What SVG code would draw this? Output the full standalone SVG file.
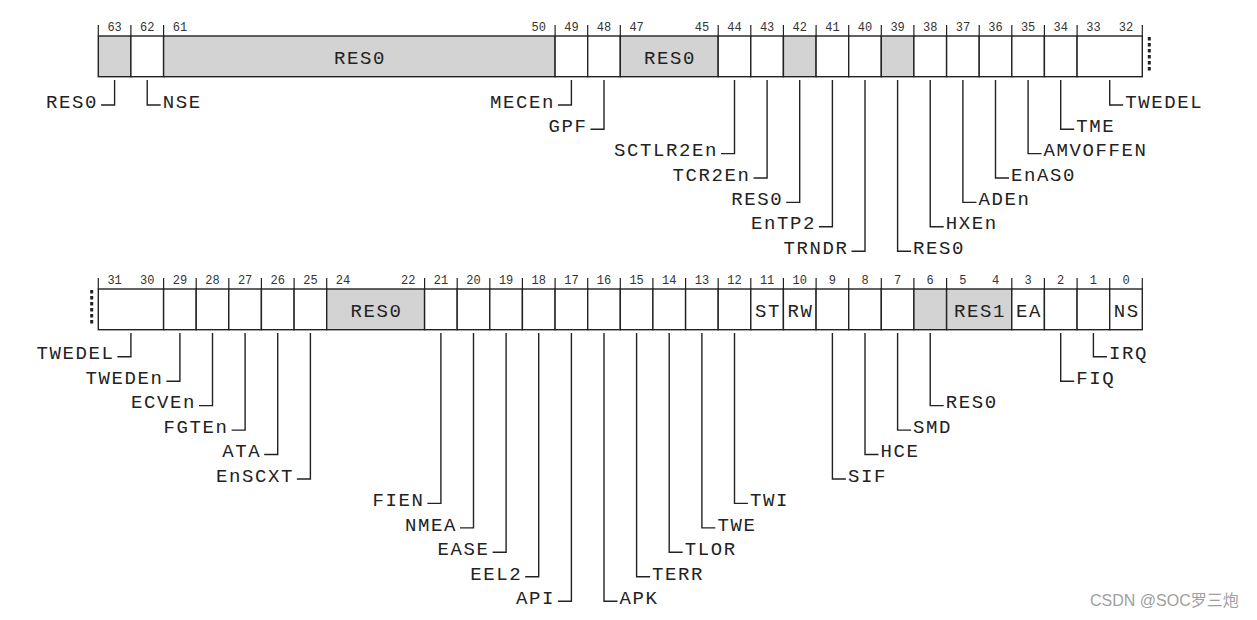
<svg xmlns="http://www.w3.org/2000/svg" width="1257" height="620" viewBox="0 0 1257 620">
<style>
.w{fill:#fff;stroke:#222;stroke-width:1.4}
.g{fill:#d3d3d3;stroke:#222;stroke-width:1.4}
.n{font-family:"Liberation Mono",monospace;font-size:12px;fill:#333;text-anchor:middle}
.l{font-family:"Liberation Mono",monospace;font-size:19px;letter-spacing:1.6px;fill:#222}
.e{text-anchor:end}
.m{text-anchor:middle}
.c path{fill:none;stroke:#222;stroke-width:1.4}
.t line{stroke:#222;stroke-width:1.2}
.d{stroke:#222;stroke-width:3;stroke-dasharray:3.6 2.4}
</style>
<rect width="1257" height="620" fill="#fff"/>
<g id="ticks" class="t">
<line x1="98.3" y1="25" x2="98.3" y2="36"/><line x1="130.9" y1="25" x2="130.9" y2="36"/><line x1="163.6" y1="25" x2="163.6" y2="36"/><line x1="555.1" y1="25" x2="555.1" y2="36"/><line x1="587.7" y1="25" x2="587.7" y2="36"/><line x1="620.3" y1="25" x2="620.3" y2="36"/><line x1="718.2" y1="25" x2="718.2" y2="36"/><line x1="750.8" y1="25" x2="750.8" y2="36"/><line x1="783.4" y1="25" x2="783.4" y2="36"/><line x1="816.1" y1="25" x2="816.1" y2="36"/><line x1="848.7" y1="25" x2="848.7" y2="36"/><line x1="881.3" y1="25" x2="881.3" y2="36"/><line x1="913.9" y1="25" x2="913.9" y2="36"/><line x1="946.6" y1="25" x2="946.6" y2="36"/><line x1="979.2" y1="25" x2="979.2" y2="36"/><line x1="1011.8" y1="25" x2="1011.8" y2="36"/><line x1="1044.4" y1="25" x2="1044.4" y2="36"/><line x1="1077.1" y1="25" x2="1077.1" y2="36"/><line x1="1142.3" y1="25" x2="1142.3" y2="36"/>
<line x1="98.3" y1="278" x2="98.3" y2="289"/><line x1="163.6" y1="278" x2="163.6" y2="289"/><line x1="196.2" y1="278" x2="196.2" y2="289"/><line x1="228.8" y1="278" x2="228.8" y2="289"/><line x1="261.4" y1="278" x2="261.4" y2="289"/><line x1="294.1" y1="278" x2="294.1" y2="289"/><line x1="326.7" y1="278" x2="326.7" y2="289"/><line x1="424.6" y1="278" x2="424.6" y2="289"/><line x1="457.2" y1="278" x2="457.2" y2="289"/><line x1="489.8" y1="278" x2="489.8" y2="289"/><line x1="522.4" y1="278" x2="522.4" y2="289"/><line x1="555.1" y1="278" x2="555.1" y2="289"/><line x1="587.7" y1="278" x2="587.7" y2="289"/><line x1="620.3" y1="278" x2="620.3" y2="289"/><line x1="652.9" y1="278" x2="652.9" y2="289"/><line x1="685.6" y1="278" x2="685.6" y2="289"/><line x1="718.2" y1="278" x2="718.2" y2="289"/><line x1="750.8" y1="278" x2="750.8" y2="289"/><line x1="783.4" y1="278" x2="783.4" y2="289"/><line x1="816.1" y1="278" x2="816.1" y2="289"/><line x1="848.7" y1="278" x2="848.7" y2="289"/><line x1="881.3" y1="278" x2="881.3" y2="289"/><line x1="913.9" y1="278" x2="913.9" y2="289"/><line x1="946.6" y1="278" x2="946.6" y2="289"/><line x1="1011.8" y1="278" x2="1011.8" y2="289"/><line x1="1044.4" y1="278" x2="1044.4" y2="289"/><line x1="1077.1" y1="278" x2="1077.1" y2="289"/><line x1="1109.7" y1="278" x2="1109.7" y2="289"/><line x1="1142.3" y1="278" x2="1142.3" y2="289"/>
</g>
<line class="d" x1="1149.3" y1="37" x2="1149.3" y2="73"/>
<line class="d" x1="91.7" y1="290" x2="91.7" y2="326"/>

<g id="b63"><rect class="g" x="98.3" y="36" width="32.6" height="40.7"/><text class="n" x="114.6" y="31">63</text><text class="l e" x="98.1" y="107.5">RES0</text></g>
<g id="b62"><rect class="w" x="130.9" y="36" width="32.7" height="40.7"/><text class="n" x="147.2" y="31">62</text><text class="l" x="162.7" y="107.5">NSE</text></g>
<g id="b61_50"><rect class="g" x="163.6" y="36" width="391.5" height="40.7"/><text class="n" x="179.9" y="31">61</text><text class="n" x="538.7" y="31">50</text><text class="l m" x="360.1" y="63.5">RES0</text></g>
<g id="b49"><rect class="w" x="555.1" y="36" width="32.6" height="40.7"/><text class="n" x="571.4" y="31">49</text><text class="l e" x="554.9" y="107.5">MECEn</text></g>
<g id="b48"><rect class="w" x="587.7" y="36" width="32.6" height="40.7"/><text class="n" x="604" y="31">48</text><text class="l e" x="587.5" y="131.7">GPF</text></g>
<g id="b47_45"><rect class="g" x="620.3" y="36" width="97.9" height="40.7"/><text class="n" x="636.6" y="31">47</text><text class="n" x="701.9" y="31">45</text><text class="l m" x="670" y="63.5">RES0</text></g>
<g id="b44"><rect class="w" x="718.2" y="36" width="32.6" height="40.7"/><text class="n" x="734.5" y="31">44</text><text class="l e" x="718" y="156.1">SCTLR2En</text></g>
<g id="b43"><rect class="w" x="750.8" y="36" width="32.6" height="40.7"/><text class="n" x="767.1" y="31">43</text><text class="l e" x="750.6" y="180.5">TCR2En</text></g>
<g id="b42"><rect class="g" x="783.4" y="36" width="32.7" height="40.7"/><text class="n" x="799.7" y="31">42</text><text class="l e" x="783.2" y="204.9">RES0</text></g>
<g id="b41"><rect class="w" x="816.1" y="36" width="32.6" height="40.7"/><text class="n" x="832.4" y="31">41</text><text class="l e" x="815.9" y="229.3">EnTP2</text></g>
<g id="b40"><rect class="w" x="848.7" y="36" width="32.6" height="40.7"/><text class="n" x="865" y="31">40</text><text class="l e" x="848.5" y="253.7">TRNDR</text></g>
<g id="b39"><rect class="g" x="881.3" y="36" width="32.6" height="40.7"/><text class="n" x="897.6" y="31">39</text><text class="l" x="913.1" y="253.7">RES0</text></g>
<g id="b38"><rect class="w" x="913.9" y="36" width="32.7" height="40.7"/><text class="n" x="930.2" y="31">38</text><text class="l" x="945.7" y="229.3">HXEn</text></g>
<g id="b37"><rect class="w" x="946.6" y="36" width="32.6" height="40.7"/><text class="n" x="962.9" y="31">37</text><text class="l" x="978.4" y="204.9">ADEn</text></g>
<g id="b36"><rect class="w" x="979.2" y="36" width="32.6" height="40.7"/><text class="n" x="995.5" y="31">36</text><text class="l" x="1011" y="180.5">EnAS0</text></g>
<g id="b35"><rect class="w" x="1011.8" y="36" width="32.6" height="40.7"/><text class="n" x="1028.1" y="31">35</text><text class="l" x="1043.6" y="156.1">AMVOFFEN</text></g>
<g id="b34"><rect class="w" x="1044.4" y="36" width="32.7" height="40.7"/><text class="n" x="1060.7" y="31">34</text><text class="l" x="1076.2" y="131.7">TME</text></g>
<g id="b33_32"><rect class="w" x="1077.1" y="36" width="65.2" height="40.7"/><text class="n" x="1093.4" y="31">33</text><text class="n" x="1126" y="31">32</text><text class="l" x="1125.2" y="107.5">TWEDEL</text></g>

<g id="b31_30"><rect class="w" x="98.3" y="289" width="65.3" height="40.7"/><text class="n" x="114.6" y="284">31</text><text class="n" x="147.2" y="284">30</text><text class="l e" x="114.4" y="359.4">TWEDEL</text></g>
<g id="b29"><rect class="w" x="163.6" y="289" width="32.6" height="40.7"/><text class="n" x="179.9" y="284">29</text><text class="l e" x="163.4" y="383.9">TWEDEn</text></g>
<g id="b28"><rect class="w" x="196.2" y="289" width="32.6" height="40.7"/><text class="n" x="212.5" y="284">28</text><text class="l e" x="196" y="408.3">ECVEn</text></g>
<g id="b27"><rect class="w" x="228.8" y="289" width="32.6" height="40.7"/><text class="n" x="245.1" y="284">27</text><text class="l e" x="228.6" y="432.8">FGTEn</text></g>
<g id="b26"><rect class="w" x="261.4" y="289" width="32.7" height="40.7"/><text class="n" x="277.7" y="284">26</text><text class="l e" x="261.2" y="457.2">ATA</text></g>
<g id="b25"><rect class="w" x="294.1" y="289" width="32.6" height="40.7"/><text class="n" x="310.4" y="284">25</text><text class="l e" x="293.9" y="481.7">EnSCXT</text></g>
<g id="b24_22"><rect class="g" x="326.7" y="289" width="97.9" height="40.7"/><text class="n" x="343" y="284">24</text><text class="n" x="408.2" y="284">22</text><text class="l m" x="376.4" y="317">RES0</text></g>
<g id="b21"><rect class="w" x="424.6" y="289" width="32.6" height="40.7"/><text class="n" x="440.9" y="284">21</text><text class="l e" x="424.4" y="506.1">FIEN</text></g>
<g id="b20"><rect class="w" x="457.2" y="289" width="32.6" height="40.7"/><text class="n" x="473.5" y="284">20</text><text class="l e" x="457" y="530.6">NMEA</text></g>
<g id="b19"><rect class="w" x="489.8" y="289" width="32.6" height="40.7"/><text class="n" x="506.1" y="284">19</text><text class="l e" x="489.6" y="555">EASE</text></g>
<g id="b18"><rect class="w" x="522.4" y="289" width="32.7" height="40.7"/><text class="n" x="538.7" y="284">18</text><text class="l e" x="522.2" y="579.5">EEL2</text></g>
<g id="b17"><rect class="w" x="555.1" y="289" width="32.6" height="40.7"/><text class="n" x="571.4" y="284">17</text><text class="l e" x="554.9" y="603.9">API</text></g>
<g id="b16"><rect class="w" x="587.7" y="289" width="32.6" height="40.7"/><text class="n" x="604" y="284">16</text><text class="l" x="619.5" y="603.9">APK</text></g>
<g id="b15"><rect class="w" x="620.3" y="289" width="32.6" height="40.7"/><text class="n" x="636.6" y="284">15</text><text class="l" x="652.1" y="579.5">TERR</text></g>
<g id="b14"><rect class="w" x="652.9" y="289" width="32.7" height="40.7"/><text class="n" x="669.2" y="284">14</text><text class="l" x="684.7" y="555">TLOR</text></g>
<g id="b13"><rect class="w" x="685.6" y="289" width="32.6" height="40.7"/><text class="n" x="701.9" y="284">13</text><text class="l" x="717.4" y="530.6">TWE</text></g>
<g id="b12"><rect class="w" x="718.2" y="289" width="32.6" height="40.7"/><text class="n" x="734.5" y="284">12</text><text class="l" x="750" y="506.1">TWI</text></g>
<g id="b11"><rect class="w" x="750.8" y="289" width="32.6" height="40.7"/><text class="n" x="767.1" y="284">11</text><text class="l m" x="767.9" y="317">ST</text></g>
<g id="b10"><rect class="w" x="783.4" y="289" width="32.7" height="40.7"/><text class="n" x="799.7" y="284">10</text><text class="l m" x="800.5" y="317">RW</text></g>
<g id="b9"><rect class="w" x="816.1" y="289" width="32.6" height="40.7"/><text class="n" x="832.4" y="284">9</text><text class="l" x="847.9" y="481.7">SIF</text></g>
<g id="b8"><rect class="w" x="848.7" y="289" width="32.6" height="40.7"/><text class="n" x="865" y="284">8</text><text class="l" x="880.5" y="457.2">HCE</text></g>
<g id="b7"><rect class="w" x="881.3" y="289" width="32.6" height="40.7"/><text class="n" x="897.6" y="284">7</text><text class="l" x="913.1" y="432.8">SMD</text></g>
<g id="b6"><rect class="g" x="913.9" y="289" width="32.7" height="40.7"/><text class="n" x="930.2" y="284">6</text><text class="l" x="945.7" y="408.3">RES0</text></g>
<g id="b5_4"><rect class="g" x="946.6" y="289" width="65.2" height="40.7"/><text class="n" x="962.9" y="284">5</text><text class="n" x="995.5" y="284">4</text><text class="l m" x="980" y="317">RES1</text></g>
<g id="b3"><rect class="w" x="1011.8" y="289" width="32.6" height="40.7"/><text class="n" x="1028.1" y="284">3</text><text class="l m" x="1028.9" y="317">EA</text></g>
<g id="b2"><rect class="w" x="1044.4" y="289" width="32.7" height="40.7"/><text class="n" x="1060.7" y="284">2</text><text class="l" x="1076.2" y="383.9">FIQ</text></g>
<g id="b1"><rect class="w" x="1077.1" y="289" width="32.6" height="40.7"/><text class="n" x="1093.4" y="284">1</text><text class="l" x="1108.9" y="359.4">IRQ</text></g>
<g id="b0"><rect class="w" x="1109.7" y="289" width="32.6" height="40.7"/><text class="n" x="1126" y="284">0</text><text class="l m" x="1126.8" y="317">NS</text></g>

<g id="connectors" class="c">
<path d="M114.6 80V105H101.1"/>
<path d="M147.2 80V105H160.7"/>
<path d="M571.4 80V105H557.9"/>
<path d="M604 80V129.2H590.5"/>
<path d="M734.5 80V153.6H721"/>
<path d="M767.1 80V178H753.6"/>
<path d="M799.7 80V202.4H786.2"/>
<path d="M832.4 80V226.8H818.9"/>
<path d="M865 80V251.2H851.5"/>
<path d="M897.6 80V251.2H911.1"/>
<path d="M930.2 80V226.8H943.7"/>
<path d="M962.9 80V202.4H976.4"/>
<path d="M995.5 80V178H1009"/>
<path d="M1028.1 80V153.6H1041.6"/>
<path d="M1060.7 80V129.2H1074.2"/>
<path d="M1109.7 80V105H1123.2"/>
<path d="M130.9 333V356.7H117.4"/>
<path d="M179.9 333V381.2H166.4"/>
<path d="M212.5 333V405.6H199"/>
<path d="M245.1 333V430.1H231.6"/>
<path d="M277.7 333V454.5H264.2"/>
<path d="M310.4 333V479H296.9"/>
<path d="M440.9 333V503.4H427.4"/>
<path d="M473.5 333V527.9H460"/>
<path d="M506.1 333V552.3H492.6"/>
<path d="M538.7 333V576.8H525.2"/>
<path d="M571.4 333V601.2H557.9"/>
<path d="M604 333V601.2H617.5"/>
<path d="M636.6 333V576.8H650.1"/>
<path d="M669.2 333V552.3H682.7"/>
<path d="M701.9 333V527.9H715.4"/>
<path d="M734.5 333V503.4H748"/>
<path d="M832.4 333V479H845.9"/>
<path d="M865 333V454.5H878.5"/>
<path d="M897.6 333V430.1H911.1"/>
<path d="M930.2 333V405.6H943.7"/>
<path d="M1060.7 333V381.2H1074.2"/>
<path d="M1093.4 333V356.7H1106.9"/>
</g>
<text x="1090" y="606" font-family="Liberation Sans, 'Noto Sans CJK SC', sans-serif" font-size="16" fill="#a0a0a0">CSDN @SOC罗三炮</text>
</svg>
